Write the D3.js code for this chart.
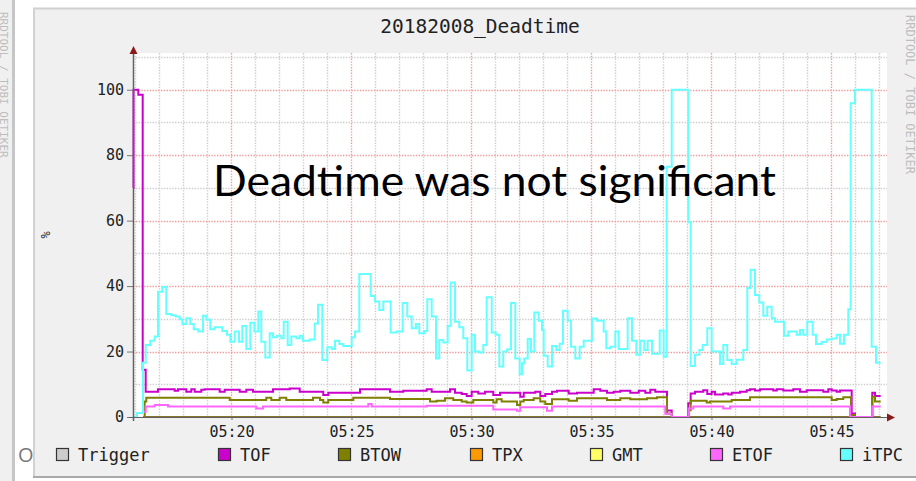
<!DOCTYPE html>
<html>
<head>
<meta charset="utf-8">
<script src="https://cdn.jsdelivr.net/npm/d3@7/dist/d3.min.js"></script>
<style>
  html, body { margin: 0; padding: 0; background: #ffffff; }
  svg { display: block; }
</style>
</head>
<body>
<div id="chart"></div>
<script>
// time = minutes after 05:00, value = deadtime in %
const chartTitle = "20182008_Deadtime";
const noteText   = "Deadtime was not significant";
const seriesNames  = ["Trigger", "TOF", "BTOW", "TPX", "GMT", "ETOF", "iTPC"];
const seriesColors = ["#cccccc", "#cc00cc", "#808000", "#ff9900", "#ffff66", "#ff66ff", "#66ffff"];
const yTicks = [0, 20, 40, 60, 80, 100];
const timeStart = 15.896, timeEnd = 47.23;

const trigger = [];
const gmt     = [];
const tpx     = [[16.313,0],[47.05,0]];

const tof = [[15.896,70],[15.917,100],[16.117,98.5],[16.3,14.4],[16.425,7.7],[16.938,8.5],[17.633,8.0],[17.771,8.5],
  [18.117,7.7],[18.325,8.5],[18.467,7.7],[18.742,8.3],[18.883,8.5],[19.508,7.7],[19.717,8.3],[20.342,7.7],[20.617,8.3],
  [20.896,7.7],[21.729,8.5],[22.425,8.7],[22.842,7.7],[23.825,6.7],[24.033,7.4],[25.354,8.5],[26.604,7.7],[27.158,8.0],
  [28.133,8.5],[28.342,7.7],[29.104,8.5],[29.313,7.4],[29.592,7.0],[29.8,6.4],[30.008,7.7],[30.283,7.2],[30.563,7.7],
  [30.908,6.7],[31.188,7.4],[32.033,6.2],[32.175,7.4],[32.658,7.7],[32.867,6.4],[33.075,7.0],[33.354,7.7],[33.563,8.0],
  [34.05,7.2],[34.396,7.4],[35.092,8.5],[35.367,8.0],[35.646,7.4],[35.925,7.7],[36.2,8.0],[36.617,7.4],[36.967,8.0],
  [37.242,7.4],[37.45,8.3],[37.658,7.7],[38.146,2.0],[38.342,0],[39.033,4.2],[39.133,7.2],[39.313,7.7],[39.658,8.2],
  [39.825,7.0],[40.008,7.7],[40.146,6.9],[40.492,7.2],[40.7,6.9],[40.842,7.4],[41.188,7.7],[41.467,8.2],[41.604,8.5],
  [41.813,8.1],[42.021,8.5],[42.575,8.1],[42.717,8.5],[42.992,8.1],[43.408,8.5],[43.688,7.7],[43.967,8.2],[44.658,7.7],
  [44.867,8.5],[45.008,8.1],[45.217,7.7],[45.354,8.1],[45.842,1.1],[45.979,0],[46.7,7.4],[46.813,6.4],[47.05,6.4]];

const btow = [[16.313,0],[16.383,4.7],[16.45,5.9],[19.925,5.2],[21.45,5.9],[21.658,5.2],[22.008,5.9],[22.283,5.2],
  [23.396,5.9],[23.688,5.2],[23.825,4.4],[24.033,5.2],[25.075,5.9],[26.604,5.5],[28.271,4.7],[28.55,5.0],[28.896,5.7],
  [29.242,5.2],[29.592,4.7],[29.8,4.4],[30.075,5.2],[30.908,4.4],[31.05,5.4],[31.258,4.7],[31.896,3.7],[32.033,4.7],
  [32.175,5.2],[32.592,5.7],[32.867,4.7],[33.075,4.0],[33.354,5.4],[34.05,5.0],[34.396,5.7],[35.646,5.2],[36.2,5.7],
  [36.617,5.4],[37.313,5.7],[37.729,6.0],[38.146,1.1],[38.354,0],[39.05,2.1],[39.133,5.0],[39.8,4.4],[39.938,4.7],
  [40.842,5.2],[41.604,6.0],[45.008,5.2],[45.217,5.5],[45.492,6.0],[45.812,0.6],[45.979,0],[46.7,6.2],[46.813,4.7],[47.05,4.7]];

const etof = [[16.313,1.6],[16.425,3.2],[16.8,3.7],[17.354,3.2],[21.033,2.6],[21.313,3.2],[25.7,4.0],[25.842,3.2],
  [28.133,3.4],[30.908,2.3],[31.896,1.9],[32.033,3.0],[33.146,1.9],[33.354,3.2],[38.075,1.0],[38.342,0],[39.05,2.6],
  [39.242,3.2],[40.492,2.6],[40.771,3.2],[45.771,0],[46.7,3.2],[47.05,3.2]];

const itpc = [[15.896,0],[16.063,1.2],[16.313,16.6],[16.425,22],[16.617,23.3],[16.8,24.6],[16.938,38.3],[17.117,39.7],
  [17.283,31.5],[17.492,31.1],[17.675,30.7],[17.842,29.9],[17.95,28.4],[18.117,30.2],[18.283,28.4],[18.425,26.8],
  [18.617,26.1],[18.813,30.9],[18.95,29.7],[19.117,26.8],[19.3,27.4],[19.617,26.3],[19.813,25.1],[19.95,23],[20.133,26.1],
  [20.313,23],[20.45,27.8],[20.617,20.8],[20.783,28.8],[20.95,26.1],[21.117,32.2],[21.242,23],[21.408,18.2],[21.592,25.6],
  [21.729,24.4],[21.896,24.8],[22.075,24.1],[22.175,29.1],[22.342,22],[22.492,24.6],[22.7,24.1],[22.842,24.8],[22.979,23.3],
  [23.258,23.7],[23.467,28.6],[23.604,34.3],[23.783,17.4],[23.992,21.3],[24.175,20.8],[24.313,23.3],[24.492,22.3],
  [24.658,21.7],[25.008,24.4],[25.146,26.1],[25.325,43.7],[25.8,37],[25.979,35.3],[26.158,32.7],[26.325,35.3],[26.633,25.8],
  [26.883,26.1],[27.133,34.8],[27.325,30.7],[27.508,27.1],[27.688,28.4],[27.825,25.6],[28.021,26.3],[28.158,36],[28.342,30.7],
  [28.521,17.9],[28.658,23.5],[28.825,22.8],[29.008,27.8],[29.133,41.1],[29.313,29.1],[29.492,27.4],[29.658,24.1],
  [29.825,14.2],[30.008,25.1],[30.146,20],[30.325,19.7],[30.492,22],[30.633,36.6],[30.842,25.8],[31.008,25.1],[31.158,15.4],
  [31.325,20],[31.492,20.7],[31.646,34.8],[31.825,17.9],[32.008,13.1],[32.104,16.4],[32.2,17.9],[32.342,23.8],[32.479,20],
  [32.617,31.9],[32.8,29.4],[32.938,26.6],[33.008,18.7],[33.175,15.4],[33.354,21.7],[33.533,20.5],[33.675,22.4],[33.813,32.5],
  [34.008,29.4],[34.146,21.5],[34.325,17.9],[34.508,21.5],[34.675,23.3],[35.021,30.1],[35.229,29.4],[35.508,26.1],[35.617,21],
  [35.783,21.5],[35.992,26.1],[36.133,20.8],[36.508,30.2],[36.688,23.3],[36.867,19],[37.033,23.3],[37.2,20.5],[37.342,23.3],
  [37.521,19.3],[37.842,26.4],[38.008,18.4],[38.133,76.5],[38.342,100],[39.033,59.5],[39.133,15.6],[39.313,19],[39.492,20.5],
  [39.633,22],[39.825,27.1],[40.008,20],[40.354,16.2],[40.492,22],[40.658,17.4],[40.842,16.2],[41.05,17.5],[41.325,20.5],
  [41.492,39.4],[41.633,45],[41.813,37.3],[41.992,35],[42.158,30.9],[42.325,33.7],[42.508,30.2],[42.646,29.1],[43.021,24.8],
  [43.2,26.1],[43.55,25.1],[43.688,26.6],[43.825,25.1],[43.992,29.1],[44.217,25.1],[44.354,22.3],[44.592,22.9],[44.8,23.7],
  [45.008,24],[45.217,25.1],[45.354,22.4],[45.521,25.1],[45.7,32.9],[45.8,95.9],[45.979,100],[46.675,21.5],[46.854,16.6],[47.05,16.6]];

const seriesData = [trigger, tof, btow, tpx, gmt, etof, itpc];

// layout
const W = 916, H = 481;
const pL = 133, pR = 885, pT = 57, pB = 417;
const legendX = [56, 218, 338, 470, 590, 710, 840];
const monoFont = "'DejaVu Sans Mono', monospace";

const baseDate = new Date(2018, 7, 20, 5, 0, 0);
const toDate = m => new Date(baseDate.getTime() + m * 60000);

const x = d3.scaleTime().domain([toDate(timeStart), toDate(timeEnd)]).range([pL, pR]);
const y = d3.scaleLinear().domain([0, 110]).range([pB, pT]);

const svg = d3.select("#chart").append("svg")
	.attr("width", W).attr("height", H)
	.style("font-family", monoFont);

// side strips and panel
svg.append("rect").attr("x", 0).attr("y", 0).attr("width", 12).attr("height", H).attr("fill", "#f0f0f0");
svg.append("rect").attr("x", 12).attr("y", 0).attr("width", 3).attr("height", H).attr("fill", "#c6c6c6");
svg.append("rect").attr("x", 33).attr("y", 8).attr("width", W - 33).attr("height", 470).attr("fill", "#f0f0f0");
svg.append("line").attr("x1", 33).attr("x2", W).attr("y1", 8.5).attr("y2", 8.5).attr("stroke", "#cfcfcf").attr("stroke-width", 2);
svg.append("line").attr("x1", 34).attr("x2", 34).attr("y1", 8).attr("y2", 478).attr("stroke", "#d2d2d2").attr("stroke-width", 2);
svg.append("line").attr("x1", 33).attr("x2", W).attr("y1", 477).attr("y2", 477).attr("stroke", "#a9a9a9").attr("stroke-width", 2);

// watermark strips (the left one is cut by the slide edge, as in the source)
svg.append("text").attr("transform", "translate(0,12) rotate(90)")
	.attr("font-size", 11).attr("fill", "#bdbdbd").text("RRDTOOL / TOBI OETIKER");
svg.append("text").attr("transform", "translate(906,15) rotate(90)")
	.attr("font-size", 12).attr("fill", "#bdbdbd").text("RRDTOOL / TOBI OETIKER");
svg.append("text").attr("x", 18).attr("y", 462).attr("font-family", "'Open Sans', sans-serif")
	.attr("font-size", 20).attr("fill", "#777").text("O");

// canvas
svg.append("rect").attr("x", pL).attr("y", 53).attr("width", pR - pL + 2).attr("height", pB - 53).attr("fill", "#ffffff");

// grid
const gridG = svg.append("g").attr("stroke-width", 1.4).attr("stroke-dasharray", "1.4,1.4");
const minutes = d3.timeMinute.range(toDate(timeStart), toDate(timeEnd));
gridG.selectAll(".vg").data(minutes).enter().append("line")
	.attr("x1", d => Math.round(x(d)) + 0.5).attr("x2", d => Math.round(x(d)) + 0.5)
	.attr("y1", 53).attr("y2", pB)
	.attr("stroke", d => d.getMinutes() % 5 === 0 ? "#f09c9c" : "#cdcdcd");
gridG.selectAll(".hg").data(d3.range(10, 111, 10)).enter().append("line")
	.attr("x1", pL).attr("x2", pR + 2)
	.attr("y1", d => Math.round(y(d)) + 0.5).attr("y2", d => Math.round(y(d)) + 0.5)
	.attr("stroke", d => (d % 20 === 0) ? "#f09c9c" : "#cdcdcd");

// series
const line = d3.line()
	.x(d => x(toDate(d[0])))
	.y(d => y(d[1]))
	.curve(d3.curveStepAfter);

const lineG = svg.append("g").attr("fill", "none").attr("stroke-width", 2);
seriesData.forEach((data, i) => {
	if (data.length < 2) return;
	lineG.append("path")
		.attr("d", line(data))
		.attr("stroke", seriesNames[i] === "TPX" ? "#86742f" : seriesColors[i]);
});

// axes
const yAxis = d3.axisLeft(y).tickValues(yTicks).tickSize(6).tickPadding(3).tickFormat(d3.format("d"));
const yG = svg.append("g").attr("transform", `translate(${pL},0)`).call(yAxis);
yG.select(".domain").remove();
yG.selectAll(".tick line").attr("stroke", "#777");
yG.selectAll("text").attr("font-family", monoFont).attr("font-size", 15).attr("fill", "#222");

const xAxis = d3.axisBottom(x).ticks(d3.timeMinute.every(5)).tickSize(3).tickPadding(6).tickFormat(d3.timeFormat("%H:%M"));
const xG = svg.append("g").attr("transform", `translate(0,${pB})`).call(xAxis);
xG.select(".domain").remove();
xG.selectAll(".tick line").attr("stroke", "#777");
xG.selectAll("text").attr("font-family", monoFont).attr("font-size", 15).attr("fill", "#222");

svg.append("line").attr("x1", pL + 0.5).attr("x2", pL + 0.5).attr("y1", pB + 4).attr("y2", 50)
	.attr("stroke", "#606060").attr("stroke-width", 1.5);
svg.append("line").attr("x1", pL - 4).attr("x2", pR + 3).attr("y1", pB + 0.5).attr("y2", pB + 0.5)
	.attr("stroke", "#606060").attr("stroke-width", 1);
svg.append("path").attr("d", `M${pL + 0.5},46 L${pL + 4.5},54 L${pL - 3.5},54 Z`).attr("fill", "#8b1a1a");
svg.append("path").attr("d", `M895,${pB + 0.5} L887,${pB - 3.5} L887,${pB + 4.5} Z`).attr("fill", "#8b1a1a");

// title and labels
svg.append("text").attr("x", 480).attr("y", 33).attr("text-anchor", "middle")
	.attr("font-size", 19.5).attr("fill", "#222").text(chartTitle);
svg.append("text").attr("transform", "translate(50,235) rotate(-90)").attr("text-anchor", "middle")
	.attr("font-size", 12).attr("fill", "#222").text("%");

svg.append("text").attr("x", 213).attr("y", 196)
	.attr("font-family", "Lato, 'Open Sans', sans-serif").attr("font-size", 42)
	.attr("textLength", 563).attr("lengthAdjust", "spacingAndGlyphs")
	.attr("fill", "#000").text(noteText);

// legend
const legG = svg.append("g");
seriesNames.forEach((name, i) => {
	legG.append("rect").attr("x", legendX[i] + 0.5).attr("y", 448.5).attr("width", 12).attr("height", 12)
		.attr("fill", seriesColors[i]).attr("stroke", "#333").attr("stroke-width", 1.2);
	legG.append("text").attr("x", legendX[i] + 22).attr("y", 460.5)
		.attr("font-size", 17).attr("fill", "#222").text(name);
});
</script>
</body>
</html>
